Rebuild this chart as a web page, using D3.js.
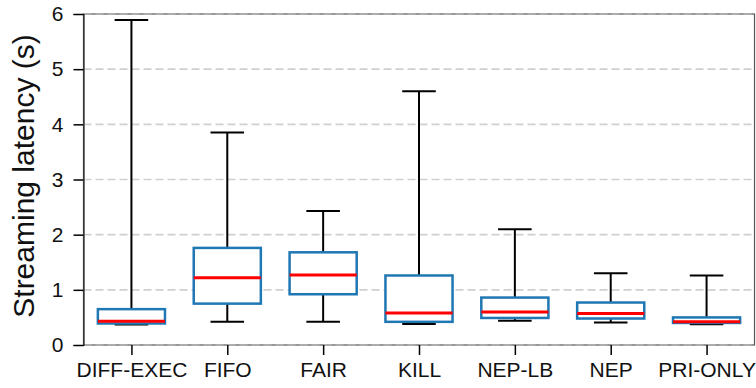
<!DOCTYPE html>
<html>
<head>
<meta charset="utf-8">
<script src="https://cdn.jsdelivr.net/npm/d3@7"></script>
<style>
  html, body { margin: 0; padding: 0; background: #fff; }
  svg { display: block; font-family: "Liberation Sans", Arial, Helvetica, sans-serif; }
</style>
</head>
<body>
<svg id="chart" width="756" height="388"></svg>
<script>
// Streaming latency distribution per scheduling policy
const categories   = ["DIFF-EXEC", "FIFO", "FAIR", "KILL", "NEP-LB", "NEP", "PRI-ONLY"];
const whiskerLow   = [0.37, 0.42, 0.42, 0.38, 0.44, 0.41, 0.375];
const quartile1    = [0.39, 0.75, 0.92, 0.42, 0.49, 0.48, 0.40];
const medians      = [0.43, 1.22, 1.27, 0.58, 0.60, 0.57, 0.42];
const quartile3    = [0.65, 1.76, 1.68, 1.26, 0.86, 0.77, 0.50];
const whiskerHigh  = [5.89, 3.85, 2.43, 4.60, 2.10, 1.30, 1.26];
const yTicks       = [0, 1, 2, 3, 4, 5, 6];
const yLabel       = "Streaming latency (s)";

const boxes = categories.map((c, i) => ({
  name: c, pos: i + 1,
  lo: whiskerLow[i], q1: quartile1[i], med: medians[i], q3: quartile3[i], hi: whiskerHigh[i]
}));

const svg = d3.select("#chart");
const W = 756, H = 388;
const margin = { left: 83.5, right: 1.5, top: 14, bottom: 43 };
const iw = W - margin.left - margin.right;
const ih = H - margin.top - margin.bottom;

const x = d3.scaleLinear().domain([0.5, categories.length + 0.5]).range([0, iw]);
const y = d3.scaleLinear().domain([0, 6]).range([ih, 0]);
const unit = x(2) - x(1);
const boxW = 0.7 * unit;
const capW = 0.35 * unit;

const g = svg.append("g").attr("transform", `translate(${margin.left},${margin.top})`);

// frame
g.append("rect")
  .attr("x", 0).attr("y", 0).attr("width", iw).attr("height", ih)
  .attr("fill", "none").attr("stroke", "#555").attr("stroke-width", 1.2);

// dashed horizontal grid
g.append("g").selectAll("line").data(yTicks).join("line")
  .attr("x1", 0).attr("x2", iw)
  .attr("y1", d => y(d)).attr("y2", d => y(d))
  .attr("stroke", "#cfcfcf").attr("stroke-width", 1.6)
  .attr("stroke-dasharray", "8,4")
  .attr("opacity", d => (d === 0 || d === 6) ? 0.5 : 1);

// y axis
const yAxis = g.append("g")
  .call(d3.axisLeft(y).tickValues(yTicks).tickFormat(d3.format("d")).tickSize(10).tickPadding(10));
yAxis.select(".domain").attr("stroke", "#222").attr("stroke-width", 1.2);
yAxis.selectAll(".tick line").attr("stroke", "#000").attr("stroke-width", 1.5);
yAxis.selectAll(".tick text").attr("font-size", 21).attr("fill", "#111")
  .attr("font-family", "Liberation Sans, Arial, sans-serif");

// x axis
const xAxis = g.append("g").attr("transform", `translate(0,${ih})`)
  .call(d3.axisBottom(x).tickValues(boxes.map(b => b.pos))
    .tickFormat((d, i) => categories[i]).tickSize(10).tickPadding(7));
xAxis.select(".domain").remove();
xAxis.selectAll(".tick line").attr("stroke", "#000").attr("stroke-width", 1.5);
xAxis.selectAll(".tick text").attr("font-size", 21).attr("fill", "#111")
  .attr("font-family", "Liberation Sans, Arial, sans-serif");

// boxes
const bg = g.append("g").selectAll("g").data(boxes).join("g");

// whiskers
bg.append("line")
  .attr("x1", d => x(d.pos)).attr("x2", d => x(d.pos))
  .attr("y1", d => y(d.q3)).attr("y2", d => y(d.hi))
  .attr("stroke", "#000").attr("stroke-width", 2);
bg.append("line")
  .attr("x1", d => x(d.pos)).attr("x2", d => x(d.pos))
  .attr("y1", d => y(d.q1)).attr("y2", d => y(d.lo))
  .attr("stroke", "#000").attr("stroke-width", 2);
// caps
bg.append("line")
  .attr("x1", d => x(d.pos) - capW / 2).attr("x2", d => x(d.pos) + capW / 2)
  .attr("y1", d => y(d.hi)).attr("y2", d => y(d.hi))
  .attr("stroke", "#000").attr("stroke-width", 2);
bg.append("line")
  .attr("x1", d => x(d.pos) - capW / 2).attr("x2", d => x(d.pos) + capW / 2)
  .attr("y1", d => y(d.lo)).attr("y2", d => y(d.lo))
  .attr("stroke", "#000").attr("stroke-width", 2);
// box body
bg.append("rect")
  .attr("x", d => x(d.pos) - boxW / 2).attr("width", boxW)
  .attr("y", d => y(d.q3)).attr("height", d => y(d.q1) - y(d.q3))
  .attr("fill", "#fff").attr("stroke", "#1f77b4").attr("stroke-width", 2.5);
// median
bg.append("line")
  .attr("x1", d => x(d.pos) - boxW / 2).attr("x2", d => x(d.pos) + boxW / 2)
  .attr("y1", d => y(d.med)).attr("y2", d => y(d.med))
  .attr("stroke", "#ff0000").attr("stroke-width", 3);

// y label
svg.append("text")
  .attr("transform", `translate(34,176) rotate(-90)`)
  .attr("text-anchor", "middle")
  .attr("font-size", 30).attr("fill", "#111")
  .text(yLabel);
</script>
</body>
</html>
